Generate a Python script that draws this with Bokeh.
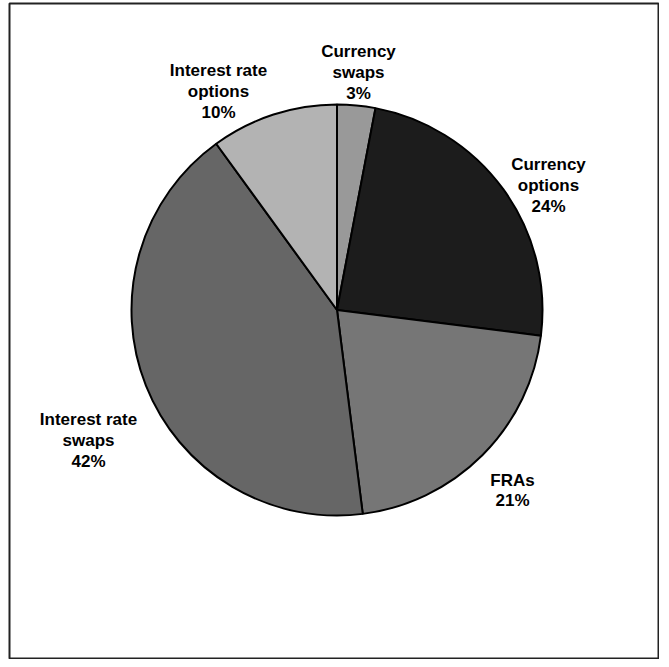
import math
from bokeh.plotting import figure
from bokeh.models import Range1d, ColumnDataSource
from bokeh.core.properties import value
from bokeh.embed import file_html
from bokeh.resources import INLINE

# ---- data ----
categories = ["Currency swaps", "Currency options", "FRAs", "Interest rate swaps", "Interest rate options"]
shares = [3, 24, 21, 42, 10]
label_names = ["Currency\nswaps", "Currency\noptions", "FRAs", "Interest rate\nswaps", "Interest rate\noptions"]
colors = ["#999999", "#1c1c1c", "#767676", "#666666", "#b3b3b3"]

# ---- layout (page pixel coordinates, y negated) ----
cx, cy = 344.5, -317.5
radius = 205.5
label_pos = [(366, -80), (556, -193), (520, -498), (96, -448), (226, -99)]

total = float(sum(shares))
starts, ends = [], []
acc = 0.0
for s in shares:
    a0 = math.pi / 2 - 2 * math.pi * acc / total
    acc += s
    a1 = math.pi / 2 - 2 * math.pi * acc / total
    starts.append(a0)
    ends.append(a1)

src = ColumnDataSource(dict(cat=categories, start=starts, end=ends, color=colors,
                            x=[cx] * len(shares), y=[cy] * len(shares)))

p = figure(width=659, height=659, output_backend="svg", toolbar_location=None,
           x_range=Range1d(17, 666), y_range=Range1d(-667, -11),
           min_border_left=9, min_border_right=1, min_border_top=3, min_border_bottom=0)
p.axis.visible = False
p.grid.visible = False
p.outline_line_color = "#222222"
p.outline_line_width = 2
p.background_fill_color = "white"
p.border_fill_color = "white"

p.wedge(x="x", y="y", radius=radius, radius_units="screen",
        start_angle="start", end_angle="end", direction="clock",
        fill_color="color", line_color="black", line_width=2, source=src)

labels = [f"{n}\n{s}%" for n, s in zip(label_names, shares)]
lsrc = ColumnDataSource(dict(x=[q[0] for q in label_pos], y=[q[1] for q in label_pos], text=labels))
p.text(x="x", y="y", text="text", source=lsrc, text_align="center", text_baseline="middle",
       text_font=value("Liberation Sans"), text_font_style="bold", text_font_size="17px",
       text_line_height=1.1, text_color="black")

open("out.html", "w").write(file_html(p, INLINE))
